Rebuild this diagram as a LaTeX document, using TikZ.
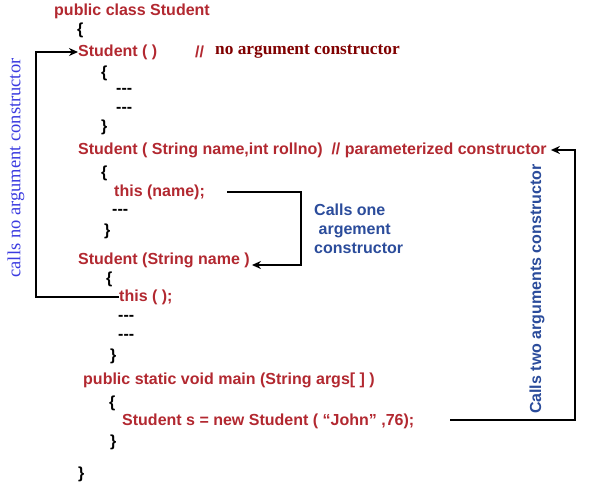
\documentclass[tikz,border=0pt]{standalone}
\usepackage{fontspec}
\setmainfont{Liberation Sans}
\newfontfamily\cmtfont{Liberation Serif}
\usetikzlibrary{calc,arrows.meta}
\definecolor{codered}{RGB}{178,40,48}
\definecolor{cmtred}{RGB}{128,0,0}
\definecolor{sideblue}{RGB}{59,59,224}
\definecolor{noteblue}{RGB}{43,76,155}
\newcommand{\dashes}{-{}-{}-}

\begin{document}
\begin{tikzpicture}[>={Stealth[length=9pt,width=8pt]}, x=1pt, y=-1pt,
		every node/.style={inner sep=0pt, anchor=west, font=\fontsize{16}{19}\selectfont\bfseries},
		code/.style={text=codered},
		plain/.style={text=black},
		note/.style={text=noteblue, align=left},
		call/.style={->, line width=1.5pt}]
			\useasboundingbox (0,0) rectangle (597,491);

			\node (cls) [code] at (54,11) {public class Student};
			\node (ob1) [plain] at (77,30) {\{};
			\node (ctor0) [code] at (78,52) {Student ( )};
			\node (sl0) [code] at (195,52) {//};
			\node (cmt0) [text=cmtred, font=\fontsize{17.3}{19}\selectfont\cmtfont\bfseries] at (215,52) {no argument constructor};
			\node (ob2) [plain] at (101,73) {\{};
			\node (d1) [plain] at (116,91) {\dashes};
			\node (d2) [plain] at (116,110) {\dashes};
			\node (cb2) [plain] at (101,127) {\}};

			\node (ctor2) [code] at (78,150) {Student ( String name,int rollno)\ \ // parameterized constructor};
			\node (ob3) [plain] at (101,173) {\{};
			\node (thisname) [code] at (114,192) {this (name);};
			\node (d3) [plain] at (112,212) {\dashes};
			\node (cb3) [plain] at (104,231) {\}};

			\node (ctor1) [code] at (78,260) {Student (String name )};
			\node (ob4) [plain] at (106,279) {\{};
			\node (thisnone) [code] at (119,297) {this ( );};
			\node (d4) [plain] at (118,318) {\dashes};
			\node (d5) [plain] at (118,337) {\dashes};
			\node (cb4) [plain] at (110,356) {\}};

			\node (mainm) [code] at (83,380) {public static void main (String args[ ] )};
			\node (ob5) [plain] at (109,403) {\{};
			\node (newstud) [code] at (122,421) {Student s = new Student ( “John” ,76);};
			\node (cb5) [plain] at (110,442) {\}};
			\node (cb1) [plain] at (78,474) {\}};

			\node (one) [note] at (314,229) {Calls one\\\ argement\\constructor};
			\node (left) [anchor=center, rotate=90, text=sideblue, font=\fontsize{18.5}{19}\selectfont\cmtfont] at (16,168) {calls no argument constructor};
			\node (two) [anchor=center, rotate=90, text=noteblue] at (537,289) {Calls two arguments constructor};

			\coordinate (lx) at (36,0);
			\coordinate (mx) at (301,0);
			\coordinate (rx) at (575,0);

			\draw[call] (thisnone.west) -- (thisnone.west -| lx) |- (ctor0.west);
			\draw[call] ($(thisname.east)+(22,0)$) -| ($(mx |- ctor1.east)+(0,5)$) -- ($(ctor1.east)+(2,5)$);
			\draw[call] ($(newstud.east)+(36,-1)$) -| (rx |- ctor2.east) -- ($(ctor2.east)+(4,0)$);
		\end{tikzpicture}
\end{document}
